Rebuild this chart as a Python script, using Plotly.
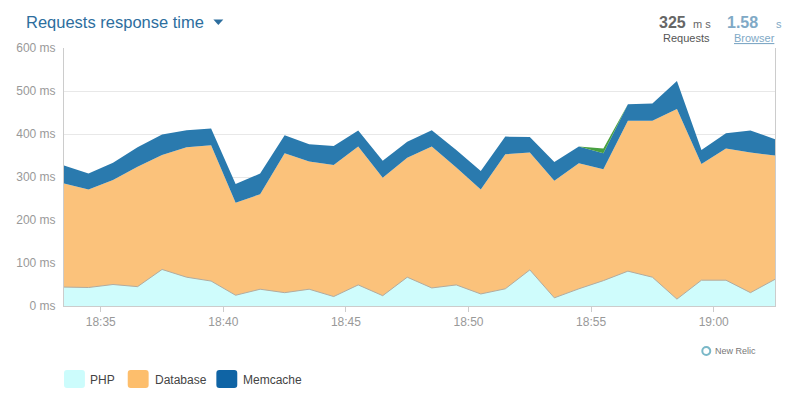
import plotly.graph_objects as go
from datetime import datetime, timedelta

# ---- data (ms per minute) ----
start = datetime(2024, 1, 1, 18, 33, 30)
times = [start + timedelta(minutes=i) for i in range(30)]

php = [44, 43, 50, 45, 85, 67, 58, 25, 39, 31,
       39, 22, 49, 24, 67, 42, 49, 28, 40, 84,
       19, 40, 59, 81, 67, 16, 60, 60, 31, 62]
database = [241, 228, 243, 279, 266, 302, 316, 215, 221, 324,
            297, 306, 322, 274, 278, 329, 273, 243, 313, 273,
            272, 292, 259, 350, 364, 442, 270, 306, 326, 288]
memcache = [42, 37, 40, 45, 48, 40, 39, 44, 48, 42,
            40, 44, 37, 40, 37, 38, 41, 43, 41, 36,
            44, 39, 37, 38, 40, 65, 33, 36, 51, 38]
external = [0, 0, 0, 0, 0, 0, 0, 0, 0, 0,
            0, 0, 0, 0, 0, 0, 0, 0, 0, 0,
            0, 0, 11, 0, 0, 0, 0, 0, 0, 0]

legend_labels = ["PHP", "Database", "Memcache"]
legend_colors = ["#ccfcfc", "#fdbe6c", "#0f64a5"]

OFF = 8  # default page body margin
W, H = 792 - 2 * OFF, 408 - 2 * OFF
# target plot area in page pixels
L, R, T, B = 62, 776, 48, 306


def px(x):
    return (x - L) / (R - L)


def py(y):
    return (B - y) / (B - T)


fig = go.Figure()
fig.add_trace(go.Scatter(x=times, y=php, name="PHP", stackgroup="s", mode="lines",
                         line=dict(width=1, color="#b0aca0"), fillcolor="#cffcfc"))
fig.add_trace(go.Scatter(x=times, y=database, name="Database", stackgroup="s", mode="lines",
                         line=dict(width=0, color="#fbc27b"), fillcolor="#fbc27b"))
fig.add_trace(go.Scatter(x=times, y=memcache, name="Memcache", stackgroup="s", mode="lines",
                         line=dict(width=0, color="#2a7aae"), fillcolor="#2a7aae"))
fig.add_trace(go.Scatter(x=times, y=external, name="External", stackgroup="s", mode="lines",
                         line=dict(width=0, color="#48a040"), fillcolor="#48a040"))

font = "Liberation Sans, Arial, sans-serif"

fig.update_layout(
    width=W, height=H,
    margin=dict(l=L - OFF, r=(W + OFF) - R, t=T - OFF, b=(H + OFF) - B, pad=0),
    paper_bgcolor="white", plot_bgcolor="white",
    showlegend=False,
    font=dict(family=font, size=12, color="#999999"),
    xaxis=dict(range=[times[0], times[-1]], type="date", tickformat="%H:%M",
               dtick=5 * 60 * 1000, tick0="2024-01-01 18:35:00",
               showgrid=False, showline=True, linecolor="#cccccc", linewidth=1,
               ticks="outside", ticklen=5, tickcolor="#cccccc",
               tickfont=dict(size=12, color="#999999"), zeroline=False),
    yaxis=dict(range=[0, 600], dtick=100, ticksuffix=" ms",
               showgrid=True, gridcolor="#e8e8e8", gridwidth=1,
               showline=True, linecolor="#cccccc", linewidth=1, mirror=True,
               ticks="outside", ticklen=5, tickcolor="rgba(0,0,0,0)",
               tickfont=dict(size=12, color="#999999"), zeroline=False),
)

ann = []


def text(t, x, y, xa, size, color, ya="middle", fam=font):
    ann.append(dict(text=t, x=px(x), y=py(y), xref="paper", yref="paper",
                    xanchor=xa, yanchor=ya, showarrow=False,
                    font=dict(family=fam, size=size, color=color)))


# title
text("Requests response time", 22, 22, "left", 16.5, "#2d6e9e")
# stats
text("<b>325</b>", 689, 22, "right", 16, "#666666")
text("m s", 692, 24, "left", 11, "#666666")
text("Requests", 713, 38, "right", 11, "#555555")
text("<b>1.58</b>", 761, 22, "right", 16, "#80a9c6")
text("s", 775, 24, "left", 11, "#80a9c6")
text("<u>Browser</u>", 778, 38, "right", 11, "#80a9c6")
# New Relic
text("New Relic", 714, 351, "left", 9, "#777777")

shapes = []
# dropdown triangle
shapes.append(dict(type="path", xref="paper", yref="paper",
                   path=f"M {px(212)} {py(19.5)} L {px(222)} {py(19.5)} L {px(217)} {py(25)} Z",
                   fillcolor="#2d6e9e", line=dict(width=0)))
# New Relic ring
shapes.append(dict(type="circle", xref="paper", yref="paper",
                   x0=px(703), x1=px(711), y0=py(355), y1=py(347),
                   line=dict(color="#7ab8c8", width=2), fillcolor="white"))

# custom legend
sw_x = [62, 126, 215]
tx_x = [86, 151, 240]


def P(x, y):
    return f"{px(x)} {py(y)}"


for lab, col, sx, tx in zip(legend_labels, legend_colors, sw_x, tx_x):
    x0, x1, y0, y1, r = sx, sx + 21, 370, 388, 3
    path = (f"M {P(x0 + r, y0)} L {P(x1 - r, y0)} Q {P(x1, y0)} {P(x1, y0 + r)} "
            f"L {P(x1, y1 - r)} Q {P(x1, y1)} {P(x1 - r, y1)} L {P(x0 + r, y1)} "
            f"Q {P(x0, y1)} {P(x0, y1 - r)} L {P(x0, y0 + r)} Q {P(x0, y0)} {P(x0 + r, y0)} Z")
    shapes.append(dict(type="path", xref="paper", yref="paper", path=path,
                       fillcolor=col, line=dict(width=0)))
    text(lab, tx, 380, "left", 12, "#444444")

fig.update_layout(annotations=ann, shapes=shapes)
fig.write_html("out.html")
